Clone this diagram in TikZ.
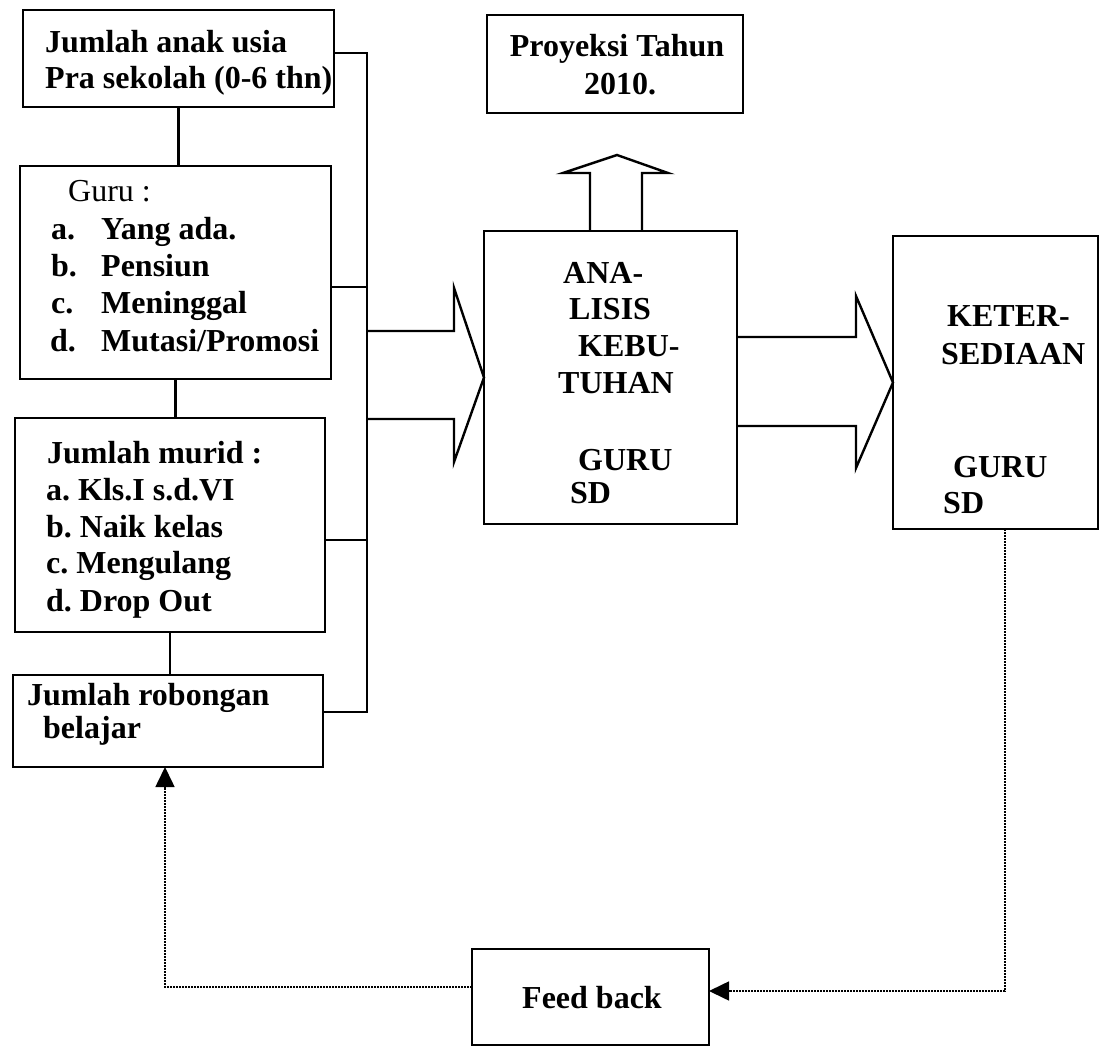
\documentclass[tikz,border=0pt]{standalone}
\usepackage{fontspec}
\setmainfont{Liberation Serif}
\usetikzlibrary{arrows.meta}
\newcommand\dfs{\fontsize{32}{36}\selectfont\frenchspacing}
\begin{document}
\begin{tikzpicture}[x=1pt,y=-1pt,
  box/.style={draw, line width=2.1pt, inner sep=0pt, outer sep=0pt},
  txt/.style={anchor=base west, inner sep=0pt, font=\dfs\bfseries},
  rtxt/.style={anchor=base west, inner sep=0pt, font=\dfs},
  ctxt/.style={anchor=base, inner sep=0pt, font=\dfs\bfseries},
  wire/.style={line width=2.1pt},
  block/.style={line width=2.4pt, line join=miter},
  fbline/.style={line width=1.6pt, dash pattern=on 1.6pt off 1.4pt},
  tip/.style={-{Triangle[length=20pt,width=19pt]}}
]
\useasboundingbox (0,0) rectangle (1100,1048);

% boxes
\node[box, minimum width=311pt, minimum height=97pt]  (b1)  at (178.5,58.5) {};
\node[box, minimum width=311pt, minimum height=213pt] (b2)  at (175.5,272.5) {};
\node[box, minimum width=310pt, minimum height=214pt] (b3)  at (170,525) {};
\node[box, minimum width=310pt, minimum height=92pt]  (b4)  at (168,721) {};
\node[box, minimum width=256pt, minimum height=98pt]  (pro) at (615,64) {};
\node[box, minimum width=253pt, minimum height=293pt] (ana) at (610.5,377.5) {};
\node[box, minimum width=205pt, minimum height=293pt] (ket) at (995.5,382.5) {};
\node[box, minimum width=237pt, minimum height=96pt]  (fb)  at (590.5,997) {};

% texts
\node[txt] (t11) at (45,53) {Jumlah anak usia};
\node[txt] (t12) at (45,89) {Pra sekolah (0-6 thn)};

\node[rtxt] (t20) at (68,202) {Guru :};
\node[txt] (t21a) at (51,240) {a.};
\node[txt] (t21)  at (101,240) {Yang ada.};
\node[txt] (t22a) at (51,277) {b.};
\node[txt] (t22)  at (101,277) {Pensiun};
\node[txt] (t23a) at (51,314) {c.};
\node[txt] (t23)  at (101,314) {Meninggal};
\node[txt] (t24a) at (50,352) {d.};
\node[txt] (t24)  at (101,352) {Mutasi/Promosi};

\node[txt] (t30) at (47,463) {Jumlah murid :};
\node[txt] (t31) at (46,500) {a. Kls.I s.d.VI};
\node[txt] (t32) at (46,537) {b. Naik kelas};
\node[txt] (t33) at (46,573) {c. Mengulang};
\node[txt] (t34) at (46,611) {d. Drop Out};

\node[txt] (t41) at (27,705) {Jumlah robongan};
\node[txt] (t42) at (43,738) {belajar};

\node[ctxt] (tp1) at (617,57) {Proyeksi Tahun};
\node[ctxt] (tp2) at (620,95) {2010.};

\node[txt] (ta1) at (563,284) {ANA-};
\node[txt] (ta2) at (569,320) {LISIS};
\node[txt] (ta3) at (578,357) {KEBU-};
\node[txt] (ta4) at (558,393) {TUHAN};
\node[txt] (ta5) at (578,470) {GURU};
\node[txt] (ta6) at (570,503) {SD};

\node[txt] (tk1) at (947,327) {KETER-};
\node[txt] (tk2) at (941,365) {SEDIAAN};
\node[txt] (tk3) at (953,477) {GURU};
\node[txt] (tk4) at (943,513) {SD};

\node[ctxt] (tf) at (592,1008) {Feed back};

% bus connectors on the left
\coordinate (bt) at (367,53);
\coordinate (bb) at (367,712);
\coordinate (j2) at (367,287);
\coordinate (j3) at (367,540);
\draw[wire] (b1.east |- bt) -- (bt) -- (bb) -- (b4.east |- bb);
\draw[wire] (b2.east |- j2) -- (j2);
\draw[wire] (b3.east |- j3) -- (j3);
\draw[wire] (b1.south) -- (b1.south |- b2.north);
\draw[wire] (b2.south) -- (b2.south |- b3.north);
\draw[wire] (b3.south) -- (b3.south |- b4.north);

% block arrows
\draw[block] (367,331) -- (454,331) -- (454,288) -- (ana.west) -- (454,462) -- (454,419) -- (367,419);
\draw[block] (737,337) -- (856,337) -- (856,296) -- (ket.west) -- (856,468) -- (856,426) -- (737,426);
\draw[block] (590,231) -- (590,173) -- (563,173) -- (617,155) -- (668,173) -- (642,173) -- (642,231);

% feedback loop
\coordinate (fl) at (165,987);
\coordinate (fr) at (1005,991);
\draw[fbline, tip] (fb.west |- fl) -- (fl) -- (fl |- b4.south);
\draw[fbline, tip] (fr |- ket.south) -- (fr) -- (fb.east |- fr);
\end{tikzpicture}
\end{document}
